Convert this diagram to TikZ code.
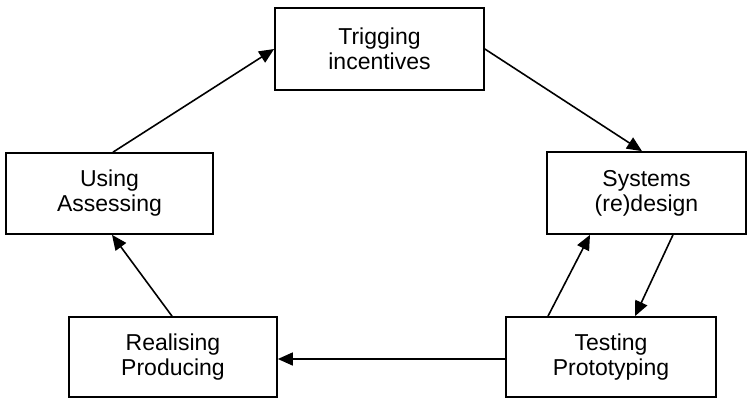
\documentclass[tikz,border=0pt]{standalone}
\usepackage{fontspec}
\setmainfont{Liberation Sans}
\usetikzlibrary{arrows.meta}
\begin{document}
\begin{tikzpicture}[x=1pt,y=-1pt,
  box/.style={draw=black, line width=1.7pt, fill=white, inner sep=0pt, align=center,
    font=\fontsize{23}{25}\selectfont},
  conn/.style={line width=1.6pt, -{Triangle[length=15pt,width=13pt]}}]
\useasboundingbox[fill=white] (0,0) rectangle (748,399);
\node[box, minimum width=209pt, minimum height=82pt] (trig) at (379.5,49) {Trigging\\incentives};
\node[box, minimum width=207pt, minimum height=81pt] (using) at (109.5,193.5) {Using\\Assessing};
\node[box, minimum width=199pt, minimum height=82pt] (sys) at (646.5,193) {Systems\\(re)design};
\node[box, minimum width=208pt, minimum height=80pt] (real) at (173,357) {Realising\\Producing};
\node[box, minimum width=210pt, minimum height=80pt] (test) at (611,357) {Testing\\Prototyping};
\draw[conn] ([xshift=3.5pt]using.north) -- (trig.west);
\draw[conn] (trig.east) -- ([xshift=-4.5pt]sys.north);
\draw[conn] ([xshift=26.5pt]sys.south) -- ([xshift=24pt]test.north);
\draw[conn] ([xshift=-63pt]test.north) -- ([xshift=-56.5pt]sys.south);
\draw[conn] ([yshift=-2pt]test.west) -- ([yshift=-2pt]real.east);
\draw[conn] ([xshift=-1pt]real.north) -- ([xshift=2.5pt]using.south);
\end{tikzpicture}
\end{document}
